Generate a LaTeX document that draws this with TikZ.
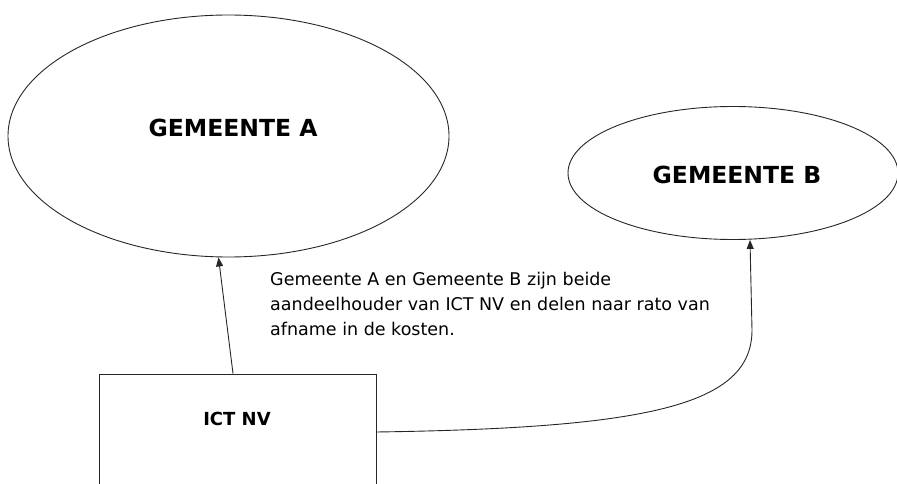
\documentclass[tikz,border=0pt]{standalone}
\usepackage{fontspec}
\setmainfont{DejaVu Sans}
\usetikzlibrary{shapes.geometric,arrows.meta,calc}
\tikzset{
  ell/.style={draw=black!85, line width=0.9pt, ellipse, inner sep=0pt},
  boxshape/.style={draw=black!85, line width=0.9pt, rectangle, inner sep=0pt},
  bigtitle/.style={font=\bfseries\fontsize{23.5}{26}\selectfont, inner sep=0pt},
  smalltitle/.style={font=\bfseries\fontsize{18}{20}\selectfont, inner sep=0pt},
  note/.style={font=\fontsize{17.5}{25}\selectfont, align=left, inner sep=0pt, anchor=north west},
  conn/.style={draw=black!85, line width=0.9pt, -{Triangle[length=9pt,width=7pt]}}
}
\begin{document}
\begin{tikzpicture}[x=1pt,y=-1pt]
\useasboundingbox (0,0) rectangle (897,484);
\clip (0,0) rectangle (897,484);
\node[ell, minimum width=441pt, minimum height=242pt] (ga) at (228.5,136) {};
\node[bigtitle] (gat) at (233,128) {GEMEENTE A};
\node[ell, minimum width=330pt, minimum height=133pt] (gb) at (733,173) {};
\node[bigtitle] (gbt) at (737,175) {GEMEENTE B};
\node[boxshape, minimum width=277pt, minimum height=170pt] (ict) at (237.5,459) {};
\node[smalltitle] (ictt) at (237,419) {ICT NV};
\node[note] (txt) at (270,272) {Gemeente A en Gemeente B zijn beide\\aandeelhouder van ICT NV en delen naar rato van\\afname in de kosten.};
\coordinate (s1) at ($(ict.north)+(-4.5,0)$);
\coordinate (e1) at ($(ga.south)+(-10,0)$);
\draw[conn] (s1) -- (e1);
\coordinate (s2) at ($(ict.east)+(0,-27)$);
\coordinate (m2) at (752,330);
\coordinate (e2) at ($(gb.south)+(17,0)$);
\draw[conn] (s2) .. controls (650,428) and (752,405) .. (m2) -- (e2);
\end{tikzpicture}
\end{document}
